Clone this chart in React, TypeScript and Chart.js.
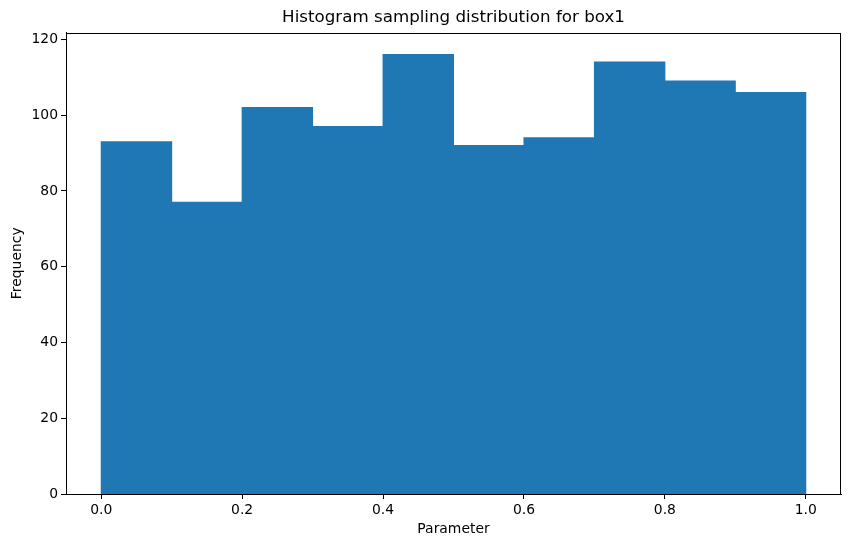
import React, { useEffect, useRef } from "react";
import { Chart, registerables } from "chart.js";

Chart.register(...registerables);

const binEdges = [0.0, 0.1, 0.2, 0.3, 0.4, 0.5, 0.6, 0.7, 0.8, 0.9, 1.0];
const counts = [93, 77, 102, 97, 116, 92, 94, 114, 109, 106];
const xTicks = [0.0, 0.2, 0.4, 0.6, 0.8, 1.0];
const yTicks = [0, 20, 40, 60, 80, 100, 120];
const titleText = "Histogram sampling distribution for box1";
const xLabel = "Parameter";
const yLabel = "Frequency";

const FONT = "'DejaVu Sans', sans-serif";

const frame = {
  id: "frame",
  afterDraw(chart: any) {
    const { ctx, chartArea } = chart;
    ctx.save();
    ctx.strokeStyle = "#000";
    ctx.lineWidth = 1;
    ctx.strokeRect(
      Math.round(chartArea.left) + 0.5,
      Math.round(chartArea.top) + 0.5,
      Math.round(chartArea.right) - Math.round(chartArea.left) - 1,
      Math.round(chartArea.bottom) - Math.round(chartArea.top)
    );
    ctx.restore();
  },
};

export default function App() {
  const ref = useRef<HTMLCanvasElement>(null);

  useEffect(() => {
    if (!ref.current) return;
    const data = counts.map((c, i) => ({ x: (binEdges[i] + binEdges[i + 1]) / 2, y: c }));
    const chart = new Chart(ref.current, {
      type: "bar",
      data: {
        datasets: [
          {
            data: data as any,
            backgroundColor: "#1f77b4",
            borderWidth: 0,
            barPercentage: 1,
            categoryPercentage: 1,
            inflateAmount: 0.5,
          },
        ],
      },
      options: {
        responsive: false,
        animation: false,
        layout: { padding: { left: 0, right: 9, top: 0, bottom: 0 } },
        plugins: {
          legend: { display: false },
          tooltip: { enabled: false },
          title: {
            display: true,
            text: titleText,
            fullSize: false,
            color: "#000",
            font: { family: FONT, size: 16.7, weight: "normal" },
            padding: { top: 8, bottom: 4.5 },
          },
        },
        scales: {
          x: {
            type: "linear",
            min: -0.05,
            max: 1.05,
            offset: false,
            afterBuildTicks: (s: any) => {
              s.ticks = xTicks.map((v) => ({ value: v }));
            },
            afterFit: (s: any) => {
              s.height = 53;
            },
            ticks: {
              color: "#000",
              font: { family: FONT, size: 13.9 },
              padding: 3,
              maxRotation: 0,
              autoSkip: false,
              callback: (v: any) => Number(v).toFixed(1),
            },
            grid: {
              display: true,
              drawOnChartArea: false,
              drawTicks: true,
              tickLength: 5,
              color: "#000",
              offset: false,
            },
            border: { display: true, color: "#000" },
            title: {
              display: true,
              text: xLabel,
              color: "#000",
              font: { family: FONT, size: 13.9 },
              padding: { top: 0, bottom: 9 },
            },
          },
          y: {
            type: "linear",
            min: 0,
            max: 121.8,
            afterBuildTicks: (s: any) => {
              s.ticks = yTicks.map((v) => ({ value: v }));
            },
            afterFit: (s: any) => {
              s.width = 66;
            },
            ticks: {
              color: "#000",
              font: { family: FONT, size: 13.9 },
              padding: 3,
              autoSkip: false,
            },
            grid: {
              display: true,
              drawOnChartArea: false,
              drawTicks: true,
              tickLength: 5,
              color: "#000",
            },
            border: { display: true, color: "#000" },
            title: {
              display: true,
              text: yLabel,
              color: "#000",
              font: { family: FONT, size: 13.9 },
              padding: { top: 9, bottom: 0 },
            },
          },
        },
      },
      plugins: [frame],
    });
    return () => chart.destroy();
  }, []);

  return (
    <div style={{ position: "absolute", left: 0, top: 0, width: 850, height: 547, background: "#fff" }}>
      <canvas ref={ref} width={850} height={547} style={{ display: "block" }} />
    </div>
  );
}
